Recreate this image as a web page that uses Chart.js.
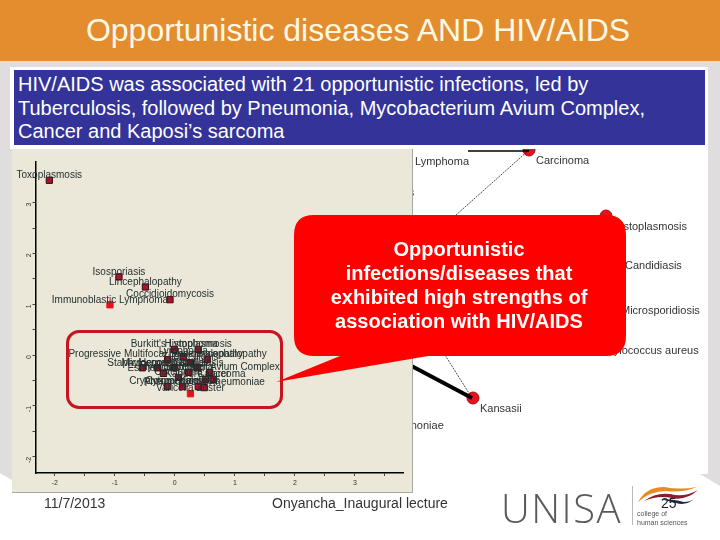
<!DOCTYPE html>
<html>
<head>
<meta charset="utf-8">
<title>Opportunistic diseases AND HIV/AIDS</title>
<script src="https://cdn.jsdelivr.net/npm/chart.js@4"></script>
<style>
  html, body { margin: 0; padding: 0; background: #fff; }
  #slide { position: relative; width: 720px; height: 540px; overflow: hidden; background: #fff;
           font-family: "Liberation Sans", Arial, sans-serif; }
  #slide > * { position: absolute; }
  #bg { left: 0; top: 0; }
  #title { left: 0; top: 0; height: 61px; line-height: 61px; background: #e38d2e; width: 720px;
           color: #fdf8e6; font-size: 32px; text-align: center; text-indent: -4px; }
  #networkWrap { left: 413px; top: 148px; width: 295px; height: 342px; }
  #plotWrap { left: 12px; top: 148px; width: 401px; height: 345px; background: #ebe8da;
              box-sizing: border-box; border-right: 1px solid #a9a89c; border-bottom: 1px solid #a9a89c; }
  canvas { display: block; }
  #banner { left: 10px; top: 67px; width: 698px; height: 82px; background: #fff; }
  #bannerText { left: 14px; top: 70px; width: 691px; height: 75px; background: #333399; color: #fff;
                font-size: 20px; line-height: 23.5px; box-sizing: border-box; padding: 3px 0 0 4px; white-space: nowrap; }
  #ring { left: 66px; top: 330px; width: 217px; height: 79px; box-sizing: border-box;
          border: 3px solid #c8141e; border-radius: 13px; }
  #callout { left: 0; top: 0; }
  #calloutText { left: 294px; top: 237px; width: 330px; color: #fff; font-size: 20px; font-weight: bold;
                 line-height: 24px; text-align: center; }
  .foot { color: #333; font-size: 14px; top: 495px; white-space: nowrap; }
  #unisa { left: 501px; top: 484px; font-size: 40px; color: #58595b; letter-spacing: 1.5px; white-space: nowrap;
           font-family: "Open Sans", "Liberation Sans", sans-serif; font-weight: 300; line-height: 48px; }
  #divider { left: 632px; top: 486px; width: 1px; height: 39px; background: #b9b9b9; }
  #college { left: 637px; top: 509px; font-size: 7px; line-height: 9px; color: #555; white-space: nowrap; }
</style>
</head>
<body>
<div id="slide">
  <svg id="bg" width="720" height="540">
    <polygon points="0,61 720,61 720,67 0,67" fill="#dfdddd"/>
    <polygon points="0,61 12,61 12,480 0,473" fill="#dfdddd"/>
    <polygon points="708,61 720,61 720,486 700,474 708,474" fill="#dfdddd"/>
  </svg>
  <div id="title">Opportunistic diseases AND HIV/AIDS</div>
  <div id="networkWrap"><canvas id="networkChart" width="295" height="342"></canvas></div>
  <div id="plotWrap"><canvas id="plotChart" width="400" height="344"></canvas></div>
  <div id="banner"></div>
  <div id="bannerText">HIV/AIDS was associated with 21 opportunistic infections, led by<br>Tuberculosis, followed by Pneumonia, Mycobacterium Avium Complex,<br>Cancer and Kaposi’s sarcoma</div>
  <div id="ring"></div>
  <svg id="callout" width="720" height="540">
    <path d="M314 215 H606 Q626 215 626 235 V336 Q626 356 606 356 H428 L276 382 L340 356 H314 Q294 356 294 336 V235 Q294 215 314 215 Z" fill="#ff0000"/>
  </svg>
  <div id="calloutText">Opportunistic<br>infections/diseases that<br>exhibited high strengths of<br>association with HIV/AIDS</div>
  <div class="foot" style="left:44px">11/7/2013</div>
  <div class="foot" style="left:272px">Onyancha_Inaugural lecture</div>
  <div id="unisa">UNISA</div>
  <div id="divider"></div>
  <svg id="logo" style="left:636px;top:484px" width="66" height="28">
    <path d="M2 18 Q10 3 28 3 Q44 6 61 3 Q46 9 30 7 Q14 7 2 18 Z" fill="#e88a1e"/>
    <path d="M8 17 Q20 8 34 10 Q48 14 62 6 Q50 17 36 14 Q22 11 8 17 Z" fill="#8c1d2c"/>
    <path d="M24 15 Q38 15 48 18 Q54 18 58 15 Q50 22 40 19 Q32 17 24 15 Z" fill="#1c2a56"/>
  </svg>
  <div class="foot" style="left:661px;color:#222">25</div>
  <div id="college">college of<br>human sciences</div>
</div>

<script>
/* =========================
  Data
========================= */
const diseaseNames = [
  "Toxoplasmosis", "Isosporiasis", "Lincephalopathy", "Coccidioidomycosis", "Immunoblastic Lymphoma",
  "Burkitt's Lymphoma", "Histoplasmosis", "Progressive Multifocal Leukoencephalopathy", "Lymphoma",
  "Tuberculosis", "Encephalopathy", "Staphylococcus", "Microsporidiosis", "Herpes Simplex", "Candidiasis",
  "Cancer", "Escherichia Coli", "Salmonella", "Mycobacterium Avium Complex", "Carcinoma",
  "Kaposi's Sarcoma", "Cryptosporidiosis", "Cytomegalovirus", "Kansasii", "Pneumocystis Pneumoniae",
  "Varicella Zoster"
];
const diseaseX = [
  -2.09, -0.93, -0.49, -0.08, -1.08,
  -0.01, 0.39, -0.12, 0.14,
  0.26, 0.54, -0.54, -0.29, -0.01, 0.38,
  0.64, -0.19, 0.23, 0.58, 0.06,
  0.51, -0.12, 0.13, 0.39, 0.49,
  0.26
];
const diseaseY = [
  3.44, 1.54, 1.34, 1.09, 0.99,
  0.11, 0.11, -0.09, -0.03,
  -0.15, -0.09, -0.25, -0.25, -0.25, -0.25,
  -0.48, -0.36, -0.34, -0.34, -0.44,
  -0.48, -0.62, -0.62, -0.62, -0.64,
  -0.76
];
const brightPoints = ["Immunoblastic Lymphoma", "Varicella Zoster"];

const xTicks = [-2, -1.5, -1, -0.5, 0, 0.5, 1, 1.5, 2, 2.5, 3, 3.5];
const yTicks = [-2, -1.5, -1, -0.5, 0, 0.5, 1, 1.5, 2, 2.5, 3, 3.5];

const nodeNames = ["Lymphoma", "Carcinoma", "Histoplasmosis", "Candidiasis", "Microsporidiosis",
  "Staphylococcus aureus", "Kansasii", "Pneumoniae", "Cryptosporidiosis"];
const nodeX = [408, 529, 606, 618, 614, 578, 473, 375, 323];
const nodeY = [151, 150, 216, 255, 300, 340, 398, 415, 182];
const visibleNodes = ["Carcinoma", "Histoplasmosis", "Kansasii"];

const edgeStartX = [468, 529, 400, 445];
const edgeStartY = [151, 150, 360, 355];
const edgeEndX = [529, 456, 472, 472];
const edgeEndY = [151, 215, 398, 398];
const edgeWeight = [1.5, 0.7, 4, 0.7];

/* =========================
  Plugins
========================= */
const pointLabels = {
  id: "pointLabels",
  afterDatasetsDraw(chart) {
    const c = chart.ctx;
    const x = chart.scales.x;
    const y = chart.scales.y;
    c.save();
    c.font = '10px "Liberation Sans", Arial, sans-serif';
    c.fillStyle = "#24302f";
    c.textAlign = "center";
    c.textBaseline = "middle";
    diseaseNames.forEach((name, i) => {
      c.fillText(name, x.getPixelForValue(diseaseX[i]), y.getPixelForValue(diseaseY[i]) - 5);
    });
    c.restore();
  }
};

const nodeLabels = {
  id: "nodeLabels",
  afterDatasetsDraw(chart) {
    const c = chart.ctx;
    const x = chart.scales.x;
    const y = chart.scales.y;
    c.save();
    c.font = '11px "Liberation Sans", Arial, sans-serif';
    c.fillStyle = "#333";
    c.textBaseline = "middle";
    nodeNames.forEach((name, i) => {
      c.fillText(name, x.getPixelForValue(nodeX[i]) + 7, y.getPixelForValue(nodeY[i]) + 11);
    });
    c.restore();
  }
};

/* =========================
  Network behind the plot
========================= */
const edgeSets = edgeWeight.map((w, i) => ({
  data: [{ x: edgeStartX[i], y: edgeStartY[i] }, { x: edgeEndX[i], y: edgeEndY[i] }],
  showLine: true,
  borderColor: "#000",
  borderWidth: w,
  borderDash: w < 1 ? [2, 1] : [],
  pointRadius: 0
}));

new Chart(document.getElementById("networkChart"), {
  type: "scatter",
  data: {
    datasets: [
      ...edgeSets,
      {
        data: nodeNames
          .map((n, i) => ({ x: nodeX[i], y: nodeY[i], n }))
          .filter(p => visibleNodes.includes(p.n)),
        backgroundColor: "#e8101a",
        borderColor: "#a01018",
        borderWidth: 1,
        pointRadius: 6
      }
    ]
  },
  options: {
    responsive: false,
    animation: false,
    layout: { padding: 0, autoPadding: false },
    plugins: { legend: { display: false }, tooltip: { enabled: false } },
    scales: {
      x: { type: "linear", display: false, min: 413, max: 708 },
      y: { type: "linear", display: false, min: 148, max: 490, reverse: true }
    }
  },
  plugins: [nodeLabels]
});

/* =========================
  Scatter plot
========================= */
function axisOptions(min, ticks, rotation) {
  return {
    type: "linear",
    min,
    max: 3.8,
    afterBuildTicks: scale => {
      scale.ticks = ticks.map(value => ({ value }));
    },
    grid: { drawOnChartArea: false, drawTicks: true, tickLength: 3, color: "#444" },
    border: { display: true, color: "#000", width: 1.5 },
    ticks: {
      autoSkip: false,
      padding: 3,
      color: "#333",
      font: { size: 7, family: '"Liberation Sans", Arial, sans-serif' },
      minRotation: rotation,
      maxRotation: rotation,
      callback: value => (Number.isInteger(value) ? value : "")
    }
  };
}

const xAxis = axisOptions(-2.32, xTicks, 0);
xAxis.afterFit = scale => { scale.height = 19; };
const yAxis = axisOptions(-2.32, yTicks, 90);
yAxis.afterFit = scale => { scale.width = 23.5; };

new Chart(document.getElementById("plotChart"), {
  type: "scatter",
  data: {
    datasets: [{
      data: diseaseNames.map((n, i) => ({ x: diseaseX[i], y: diseaseY[i] })),
      pointStyle: "rect",
      pointRadius: 4.4,
      borderWidth: 1,
      backgroundColor: ctx => (brightPoints.includes(diseaseNames[ctx.dataIndex]) ? "#e8101a" : "#a8142a"),
      borderColor: ctx => (brightPoints.includes(diseaseNames[ctx.dataIndex]) ? "#e8101a" : "#3a0a12")
    }]
  },
  options: {
    responsive: false,
    animation: false,
    layout: { padding: { top: 14, right: 9 }, autoPadding: false },
    plugins: { legend: { display: false }, tooltip: { enabled: false } },
    scales: { x: xAxis, y: yAxis }
  },
  plugins: [pointLabels]
});
</script>
</body>
</html>
